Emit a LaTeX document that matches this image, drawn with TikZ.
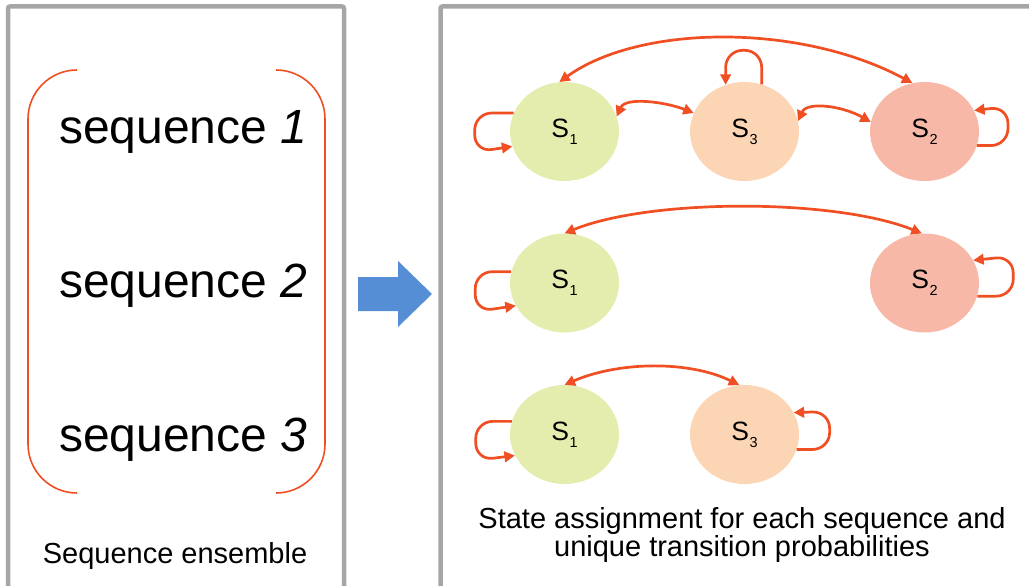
\documentclass[tikz,border=0pt]{standalone}
\usepackage{fontspec}
\setmainfont{Liberation Sans}
\usetikzlibrary{shapes.geometric,arrows.meta}

\definecolor{framegray}{RGB}{166,166,166}
\definecolor{edgered}{RGB}{240,78,35}
\definecolor{stateA}{RGB}{228,237,174}
\definecolor{stateB}{RGB}{248,184,168}
\definecolor{stateC}{RGB}{252,213,181}
\definecolor{flowblue}{RGB}{85,142,213}

\newcommand{\stlabel}[1]{{\fontsize{26.5}{26.5}\selectfont S\kern0.6pt\raisebox{-6.8pt}{\fontsize{14.5}{14.5}\selectfont #1}}}

\tikzset{
  panel/.style={draw=framegray, line width=4.5pt, rounded corners=2pt},
  statenode/.style={ellipse, draw=none, minimum width=109pt, minimum height=99pt, inner sep=0pt},
  sA/.style={statenode, fill=stateA},
  sB/.style={statenode, fill=stateB},
  sC/.style={statenode, fill=stateC},
  edge/.style={draw=edgered, line width=2.7pt},
  twoway/.style={edge, arrows={Triangle[length=10.5pt,width=10.5pt]-Triangle[length=10.5pt,width=10.5pt]}},
  selfloop/.style={edge, rounded corners=17pt, arrows={-Triangle[length=10.5pt,width=10.5pt]}},
  bigtext/.style={inner sep=0pt, anchor=base west, font=\fontsize{48}{48}\selectfont},
  caption/.style={inner sep=0pt, anchor=base, font=\fontsize{29}{29}\selectfont},
}

\begin{document}
\begin{tikzpicture}[x=1pt, y=-1pt]
\useasboundingbox (0,0) rectangle (1029,586);
\clip (0,0) rectangle (1029,586);

% panels
\draw[panel] (8,6.5) rectangle (344,640);
\draw[panel] (440.5,6.5) rectangle (1100,640);

% left panel: bracketed sequences (y runs downwards, so angles are mirrored)
\draw[edgered, line width=1.6pt] (77,70) arc[start angle=270, end angle=180, radius=49] -- (28,444)
  arc[start angle=180, end angle=90, radius=49];
\draw[edgered, line width=1.6pt] (276,70) arc[start angle=270, end angle=360, radius=49] -- (325,444)
  arc[start angle=0, end angle=90, radius=49];

\node[bigtext] (seq1) at (59,143) {sequence \textit{1}};
\node[bigtext] (seq2) at (59,297) {sequence \textit{2}};
\node[bigtext] (seq3) at (59,451) {sequence \textit{3}};
\node[caption] (ens) at (175,563) {Sequence ensemble};

% block arrow between panels
\fill[flowblue] (358,277) -- (398,277) -- (398,261) -- (432,294) -- (398,327) -- (398,311) -- (358,311) -- cycle;

% row 1: three states
\node[sA] (s1a) at (564.5,131.5) {\stlabel{1}};
\node[sC] (s3a) at (744.5,131.5) {\stlabel{3}};
\node[sB] (s2a) at (924.5,131.5) {\stlabel{2}};

\draw[twoway] (s1a.96) .. controls +(81,-58) and +(-112,-60) .. (s2a.104);
\draw[twoway] (s1a.16) .. controls +(9,-20) and +(-28,-11) .. (s3a.160);
\draw[twoway] (s3a.11) .. controls +(9,-20) and +(-28,-16) .. (s2a.170);
\draw[selfloop] (s1a.160) -- ++(-39,0) -- ++(0,39) -- (s1a.196);
\draw[selfloop] (s3a.70) -- ++(0,-34) -| (s3a.112);
\draw[selfloop] (s2a.345) -- ++(31,0) -- ++(0,-39) -- (s2a.23);

% row 2: two states
\node[sA] (s1b) at (564.5,283) {\stlabel{1}};
\node[sB] (s2b) at (924.5,283) {\stlabel{2}};

\draw[twoway] (s1b.90) .. controls +(86,-35) and +(-87,-35) .. (s2b.93);
\draw[selfloop] (s1b.168) -- ++(-36,0) -- ++(0,40) -- (s1b.205);
\draw[selfloop] (s2b.346) -- ++(36,0) -- ++(0,-40) -- (s2b.25);

% row 3: two states
\node[sA] (s1c) at (564.5,434.5) {\stlabel{1}};
\node[sC] (s3c) at (744.5,434.5) {\stlabel{3}};

\draw[twoway] (s1c.90) .. controls +(56,-24) and +(-49,-24) .. (s3c.96);
\draw[selfloop] (s1c.166) -- ++(-36,0) -- ++(0,39) -- (s1c.203);
\draw[selfloop] (s3c.344) -- ++(33,0) -- ++(0,-38) -- (s3c.24);

% right panel caption
\node[inner sep=0pt, anchor=base, align=center, font=\fontsize{29}{24}\selectfont] (cap) at (742,556.5)
  {State assignment for each sequence and\\unique transition probabilities};
\end{tikzpicture}
\end{document}
